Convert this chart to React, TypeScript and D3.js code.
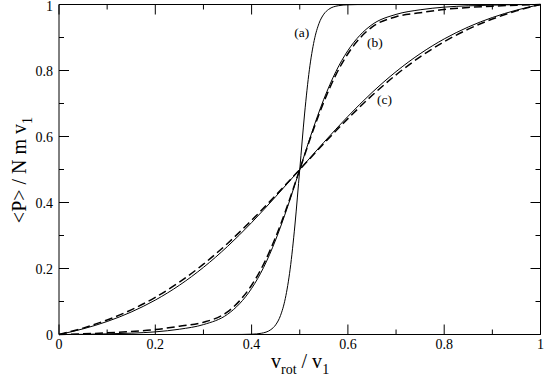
import React from "react";
import * as d3 from "d3";

// ---- data ----
const xTicksMajor = [0, 0.2, 0.4, 0.6, 0.8, 1];
const xTickLabels = ["0", "0.2", "0.4", "0.6", "0.8", "1"];
const yTicksMajor = [0, 0.2, 0.4, 0.6, 0.8, 1];
const yTickLabels = ["0", "0.2", "0.4", "0.6", "0.8", "1"];
const ticksMinor = [0.1, 0.3, 0.5, 0.7, 0.9];

const aX = [0, 0.3, 0.38, 0.4, 0.42, 0.44, 0.45, 0.46, 0.47, 0.48, 0.49, 0.5, 0.51, 0.52, 0.53, 0.54, 0.55, 0.56, 0.58, 0.6, 0.62, 0.7, 1];
const aSolid = [0, 0, 0.0002, 0.0009, 0.0037, 0.0148, 0.0293, 0.0573, 0.1091, 0.1978, 0.3318, 0.5, 0.6682, 0.8022, 0.8909, 0.9427, 0.9707, 0.9852, 0.9963, 0.9991, 0.9998, 1, 1];

const bX = [0, 0.05, 0.1, 0.15, 0.2, 0.25, 0.3, 0.35, 0.375, 0.4, 0.425, 0.45, 0.475, 0.5, 0.525, 0.55, 0.575, 0.6, 0.625, 0.65, 0.7, 0.75, 0.8, 0.85, 0.9, 0.95, 1];
const bSolid = [0, 0.0005, 0.002, 0.004, 0.008, 0.016, 0.03, 0.0612, 0.0932, 0.1395, 0.2034, 0.287, 0.3882, 0.5, 0.6118, 0.713, 0.7966, 0.8605, 0.9068, 0.9388, 0.97, 0.984, 0.992, 0.996, 0.998, 0.9995, 1];
const bDashed = [0, 0.002, 0.005, 0.009, 0.015, 0.025, 0.037, 0.0684, 0.1019, 0.1492, 0.2132, 0.2952, 0.3929, 0.5, 0.6071, 0.7048, 0.7868, 0.8508, 0.8981, 0.9316, 0.963, 0.975, 0.985, 0.991, 0.995, 0.998, 1];

const cX = [0, 0.05, 0.1, 0.15, 0.2, 0.25, 0.3, 0.35, 0.4, 0.45, 0.5, 0.55, 0.6, 0.65, 0.7, 0.75, 0.8, 0.85, 0.9, 0.95, 1];
const cSolid = [0, 0.0171, 0.0394, 0.0681, 0.1043, 0.1492, 0.2034, 0.2669, 0.3391, 0.4178, 0.5, 0.5822, 0.6609, 0.7331, 0.7966, 0.8508, 0.8957, 0.9319, 0.9606, 0.9829, 1];
const cDashed = [0, 0.0194, 0.0441, 0.0747, 0.1127, 0.1587, 0.2131, 0.2759, 0.3459, 0.4215, 0.5, 0.5785, 0.6541, 0.7241, 0.7869, 0.8413, 0.8873, 0.9253, 0.9559, 0.9806, 1];

const curveLabels = [
  { text: "(a)", x: 0.504, y: 0.902 },
  { text: "(b)", x: 0.656, y: 0.871 },
  { text: "(c)", x: 0.676, y: 0.7 },
];

const W = 545;
const H = 379;
const FONT = "Liberation Serif, DejaVu Serif, serif";
const fontStyle = { fontFamily: FONT };

export default function App() {
  const x = d3.scaleLinear().domain([0, 1]).range([59, 540.5]);
  const y = d3.scaleLinear().domain([0, 1]).range([334.5, 4.5]);

  const mk = (xs: number[], ys: number[]) =>
    d3
      .line<number>()
      .x((_, i) => x(xs[i]))
      .y((d) => y(d))
      .curve(d3.curveMonotoneX)(ys) || "";

  const series = [
    { xs: aX, ys: aSolid, dash: false },
    { xs: bX, ys: bSolid, dash: false },
    { xs: bX, ys: bDashed, dash: true },
    { xs: cX, ys: cSolid, dash: false },
    { xs: cX, ys: cDashed, dash: true },
  ];

  const x0 = x(0), x1 = x(1), y0 = y(0), y1 = y(1);
  const MAJ = 10, MIN = 5;

  return (
    <svg
      width={W}
      height={H}
      style={{ position: "absolute", left: 0, top: 0, background: "#fff", fontFamily: FONT }}
    >
      <rect x={0} y={0} width={W} height={H} fill="#fff" />
      {/* curves */}
      <g fill="none" stroke="#000">
        {series.map((s, i) => (
          <path
            key={i}
            d={mk(s.xs, s.ys)}
            strokeWidth={s.dash ? 1.5 : 1}
            strokeDasharray={s.dash ? "8 4" : undefined}
          />
        ))}
      </g>
      {/* frame */}
      <g stroke="#000" strokeWidth={1}>
        <line x1={x0} y1={y0} x2={x0} y2={y1} />
        <line x1={x0} y1={y0} x2={x1} y2={y0} />
        <line x1={x0} y1={y1} x2={x1} y2={y1} />
        <line x1={x1} y1={y0} x2={x1} y2={y1} />
        {xTicksMajor.map((t) => (
          <g key={"xm" + t}>
            <line x1={x(t)} x2={x(t)} y1={y0} y2={y0 - MAJ} />
            <line x1={x(t)} x2={x(t)} y1={y1} y2={y1 + MAJ} />
          </g>
        ))}
        {ticksMinor.map((t) => (
          <g key={"xn" + t}>
            <line x1={x(t)} x2={x(t)} y1={y0} y2={y0 - MIN} />
            <line x1={x(t)} x2={x(t)} y1={y1} y2={y1 + MIN} />
          </g>
        ))}
        {yTicksMajor.map((t) => (
          <g key={"ym" + t}>
            <line x1={x0} x2={x0 + MAJ} y1={y(t)} y2={y(t)} />
            <line x1={x1} x2={x1 - MAJ} y1={y(t)} y2={y(t)} />
          </g>
        ))}
        {ticksMinor.map((t) => (
          <g key={"yn" + t}>
            <line x1={x0} x2={x0 + MIN} y1={y(t)} y2={y(t)} />
            <line x1={x1} x2={x1 - MIN} y1={y(t)} y2={y(t)} />
          </g>
        ))}
      </g>
      {/* tick labels */}
      <g fill="#000">
        {xTicksMajor.map((t, i) => (
          <text key={"xl" + t} x={x(t)} y={349} textAnchor="middle" fontSize={14} style={fontStyle}>
            {xTickLabels[i]}
          </text>
        ))}
        {yTicksMajor.map((t, i) => (
          <text key={"yl" + t} x={53} y={Math.max(y(t) + 5, 10.5)} textAnchor="end" fontSize={14} style={fontStyle}>
            {yTickLabels[i]}
          </text>
        ))}
      </g>
      {/* curve labels */}
      <g fill="#000">
        {curveLabels.map((l) => (
          <text key={l.text} x={x(l.x)} y={y(l.y)} textAnchor="middle" fontSize={13.5} style={fontStyle}>
            {l.text}
          </text>
        ))}
      </g>
      {/* axis titles */}
      <text x={271} y={368} fontSize={20} fill="#000" style={fontStyle}>
        <tspan>v</tspan>
        <tspan fontSize={14} dy={6}>rot</tspan>
        <tspan dy={-6}> / v</tspan>
        <tspan fontSize={14} dy={6}>1</tspan>
      </text>
      <text
        transform="translate(26,170) rotate(-90)"
        textAnchor="middle"
        fontSize={20}
        fill="#000"
        style={fontStyle}
      >
        <tspan>{"<P> / N m v"}</tspan>
        <tspan fontSize={14} dy={6}>1</tspan>
      </text>
    </svg>
  );
}
